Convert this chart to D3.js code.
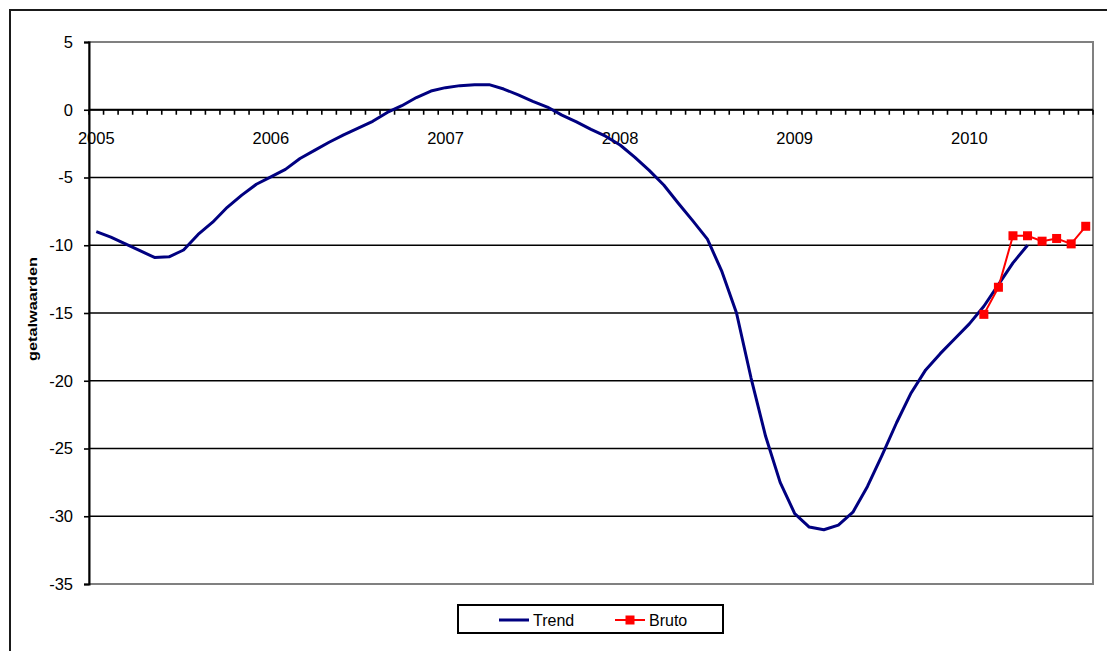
<!DOCTYPE html>
<html>
<head>
<meta charset="utf-8">
<script src="https://cdn.jsdelivr.net/npm/d3@7"></script>
<style>
  html, body { margin: 0; padding: 0; background: #fff; }
  svg { display: block; font-family: Arial, "Liberation Sans", sans-serif; }
</style>
</head>
<body>
<svg id="chart" width="1107" height="651"></svg>
<script>
// Monthly categories, January 2005 through September 2010
const months = [
  "2005-01","2005-02","2005-03","2005-04","2005-05","2005-06","2005-07","2005-08","2005-09","2005-10","2005-11","2005-12",
  "2006-01","2006-02","2006-03","2006-04","2006-05","2006-06","2006-07","2006-08","2006-09","2006-10","2006-11","2006-12",
  "2007-01","2007-02","2007-03","2007-04","2007-05","2007-06","2007-07","2007-08","2007-09","2007-10","2007-11","2007-12",
  "2008-01","2008-02","2008-03","2008-04","2008-05","2008-06","2008-07","2008-08","2008-09","2008-10","2008-11","2008-12",
  "2009-01","2009-02","2009-03","2009-04","2009-05","2009-06","2009-07","2009-08","2009-09","2009-10","2009-11","2009-12",
  "2010-01","2010-02","2010-03","2010-04","2010-05","2010-06","2010-07","2010-08","2010-09"
];

// Months that carry a year label on the category axis
const yearTickMonths = ["2005-01","2006-01","2007-01","2008-01","2009-01","2010-01"];
const yearTickLabels = ["2005","2006","2007","2008","2009","2010"];

// Value axis ticks
const yTicks = [5, 0, -5, -10, -15, -20, -25, -30, -35];

// Trend series, starting January 2005
const trendValues = [
  -9.0, -9.4, -9.9, -10.4, -10.9, -10.85, -10.35, -9.2, -8.3, -7.2, -6.3, -5.5,
  -4.95, -4.4, -3.6, -3.0, -2.4, -1.85, -1.35, -0.85, -0.2, 0.3, 0.9, 1.38,
  1.63, 1.78, 1.85, 1.85, 1.53, 1.1, 0.62, 0.2, -0.4, -0.9, -1.45, -1.95,
  -2.6, -3.5, -4.47, -5.55, -6.9, -8.2, -9.55, -11.95, -15.0, -19.8, -24.1, -27.5,
  -29.8, -30.8, -31.0, -30.65, -29.7, -27.8, -25.5, -23.1, -20.9, -19.2, -18.0, -16.9,
  -15.8, -14.5, -12.9, -11.3, -10.0
];

// Bruto (raw) series, February to September 2010
const brutoMonths = ["2010-02","2010-03","2010-04","2010-05","2010-06","2010-07","2010-08","2010-09"];
const brutoValues = [-15.1, -13.1, -9.3, -9.3, -9.7, -9.5, -9.9, -8.6];

const svg = d3.select("#chart");

const plot = { left: 89, right: 1093, top: 42, bottom: 584 };

const x = d3.scaleBand()
  .domain(months)
  .range([plot.left, plot.right])
  .paddingInner(0)
  .paddingOuter(0);

const y = d3.scaleLinear()
  .domain([-35, 5])
  .range([plot.bottom, plot.top]);

const cx = m => x(m) + x.bandwidth() / 2;

// Outer chart frame
svg.append("rect")
  .attr("x", 10).attr("y", 10)
  .attr("width", 1120).attr("height", 700)
  .attr("fill", "#fff")
  .attr("stroke", "#1a1a1a")
  .attr("stroke-width", 2);

// Plot area frame (grey)
svg.append("rect")
  .attr("x", plot.left).attr("y", plot.top)
  .attr("width", plot.right - plot.left)
  .attr("height", plot.bottom - plot.top)
  .attr("fill", "#fff")
  .attr("stroke", "#808080")
  .attr("stroke-width", 2);

// Horizontal gridlines
svg.append("g")
  .selectAll("line")
  .data(yTicks.filter(v => v < 5 && v > -35))
  .join("line")
  .attr("x1", plot.left).attr("x2", plot.right)
  .attr("y1", d => y(d)).attr("y2", d => y(d))
  .attr("stroke", "#000")
  .attr("stroke-width", 1.6);

// Value axis on the left (plain hyphen for negatives)
const yAxis = d3.axisLeft(y)
  .tickValues(yTicks)
  .tickSize(5)
  .tickPadding(11)
  .tickFormat(d => String(d));

const yg = svg.append("g")
  .attr("transform", `translate(${plot.left},0)`)
  .call(yAxis);
yg.select(".domain").attr("stroke", "#000").attr("stroke-width", 2);
yg.selectAll(".tick line").attr("stroke", "#000").attr("stroke-width", 1.6);
yg.selectAll(".tick text")
  .attr("fill", "#000")
  .style("font-size", "16.5px")
  .style("font-family", "Arial, 'Liberation Sans', sans-serif");

// Category axis crossing at zero: tick marks on category boundaries
const boundaries = months.map(m => x(m)).concat([plot.right]);
const xg = svg.append("g");
xg.append("line")
  .attr("x1", plot.left).attr("x2", plot.right)
  .attr("y1", y(0)).attr("y2", y(0))
  .attr("stroke", "#000").attr("stroke-width", 2);
xg.selectAll("line.tick")
  .data(boundaries)
  .join("line")
  .attr("class", "tick")
  .attr("x1", d => d).attr("x2", d => d)
  .attr("y1", y(0)).attr("y2", y(0) + 5)
  .attr("stroke", "#000").attr("stroke-width", 1.6);
xg.selectAll("text")
  .data(yearTickMonths)
  .join("text")
  .attr("x", d => cx(d))
  .attr("y", y(0) + 34)
  .attr("text-anchor", "middle")
  .attr("fill", "#000")
  .style("font-size", "16.5px")
  .text((d, i) => yearTickLabels[i]);

// Y axis title
svg.append("text")
  .attr("transform", `translate(37,309) rotate(-90)`)
  .attr("text-anchor", "middle")
  .attr("textLength", 104)
  .attr("lengthAdjust", "spacingAndGlyphs")
  .style("font-size", "12.5px")
  .style("font-weight", "bold")
  .attr("fill", "#000")
  .text("getalwaarden");

// Trend line
const trendData = trendValues.map((v, i) => ({ m: months[i], v }));
svg.append("path")
  .datum(trendData)
  .attr("fill", "none")
  .attr("stroke", "#000080")
  .attr("stroke-width", 3)
  .attr("stroke-linejoin", "round")
  .attr("d", d3.line().x(d => cx(d.m)).y(d => y(d.v)));

// Bruto line with square markers
const brutoData = brutoValues.map((v, i) => ({ m: brutoMonths[i], v }));
svg.append("path")
  .datum(brutoData)
  .attr("fill", "none")
  .attr("stroke", "#ff0000")
  .attr("stroke-width", 2)
  .attr("d", d3.line().x(d => cx(d.m)).y(d => y(d.v)));
const ms = 9;
svg.append("g")
  .selectAll("rect")
  .data(brutoData)
  .join("rect")
  .attr("x", d => cx(d.m) - ms / 2)
  .attr("y", d => y(d.v) - ms / 2)
  .attr("width", ms).attr("height", ms)
  .attr("fill", "#ff0000");

// Legend
const legend = svg.append("g");
legend.append("rect")
  .attr("x", 458).attr("y", 605)
  .attr("width", 265).attr("height", 28)
  .attr("fill", "#fff")
  .attr("stroke", "#000")
  .attr("stroke-width", 2);
legend.append("line")
  .attr("x1", 499).attr("x2", 529)
  .attr("y1", 620).attr("y2", 620)
  .attr("stroke", "#000080").attr("stroke-width", 3);
legend.append("text")
  .attr("x", 533).attr("y", 626)
  .style("font-size", "16px").attr("fill", "#000")
  .text("Trend");
legend.append("line")
  .attr("x1", 615).attr("x2", 645)
  .attr("y1", 620).attr("y2", 620)
  .attr("stroke", "#ff0000").attr("stroke-width", 2);
legend.append("rect")
  .attr("x", 630 - ms / 2).attr("y", 620 - ms / 2)
  .attr("width", ms).attr("height", ms)
  .attr("fill", "#ff0000");
legend.append("text")
  .attr("x", 649).attr("y", 626)
  .style("font-size", "16px").attr("fill", "#000")
  .text("Bruto");
</script>
</body>
</html>
